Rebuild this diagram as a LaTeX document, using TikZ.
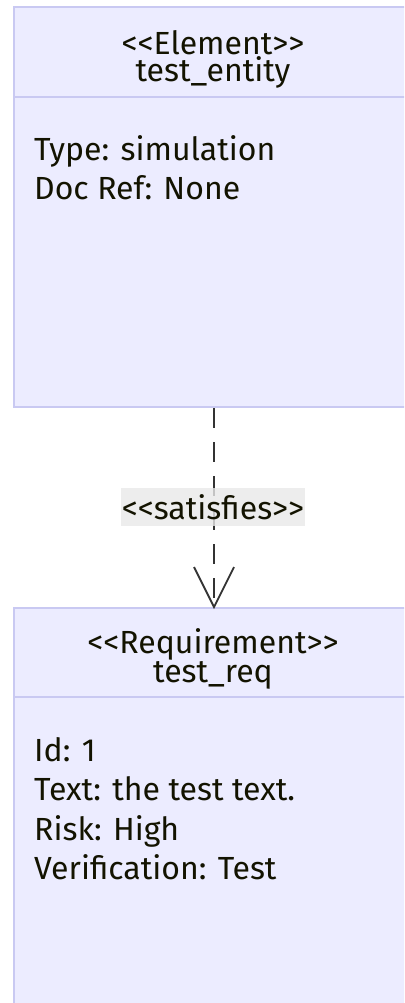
\documentclass[tikz,border=0pt]{standalone}
\usepackage{fontspec}
\setmainfont{Fira Sans}
\definecolor{boxfill}{HTML}{ECECFF}
\definecolor{boxline}{HTML}{C9C9F2}
\definecolor{ink}{HTML}{333333}
\definecolor{txtcol}{HTML}{131300}
\definecolor{labelbg}{HTML}{E8E8E8}
% guillemet-like brackets without the TeX ligature mapping
\newcommand\stopen{<\kern0pt<}
\newcommand\stclose{>\kern0pt>}
\tikzset{
  reqbox/.style={draw=boxline, fill=boxfill, line width=2pt, minimum width=400pt, anchor=north west, inner sep=0pt},
  divider/.style={draw=boxline, line width=2pt},
  txt/.style={font=\fontsize{32}{39}\selectfont, text=txtcol, inner sep=0pt},
  title/.style={font=\fontsize{32}{27}\selectfont, text=txtcol, inner sep=0pt, align=center, anchor=base},
  satisfy/.style={draw=ink, line width=1.8pt, dash pattern=on 20pt off 14pt},
  openv/.style={draw=ink, line width=1.8pt},
  edgelabel/.style={txt, fill=labelbg, fill opacity=0.8, text opacity=1, minimum width=184pt, minimum height=38pt},
}
\begin{document}
\begin{tikzpicture}[x=1pt,y=-1pt]
\useasboundingbox (0,0) rectangle (404,1003);
\clip (0,0) rectangle (404,1003);

% element box (two-line title, base = baseline of the last line)
\node[reqbox, minimum height=400pt] (elem) at (13,6) {};
\draw[divider] ([yshift=-91pt]elem.north west) -- ([yshift=-91pt]elem.north east);
\node[title] (elemtitle) at (213,82) {\stopen Element\stclose\\test\_entity};
\node[txt, anchor=base west] (elemtype) at (34,161) {Type: simulation};
\node[txt, anchor=base west] (elemdoc) at (34,200) {Doc Ref: None};

% requirement box
\node[reqbox, minimum height=500pt] (req) at (13,607) {};
\draw[divider] ([yshift=-90pt]req.north west) -- ([yshift=-90pt]req.north east);
\node[title] (reqtitle) at (213,682) {\stopen Requirement\stclose\\test\_req};
\node[txt, anchor=base west] (reqid) at (34,761) {Id: 1};
\node[txt, anchor=base west] (reqtext) at (34,800.5) {Text: the test text.};
\node[txt, anchor=base west] (reqrisk) at (34,840) {Risk: High};
\node[txt, anchor=base west] (reqver) at (34,879.5) {Verification: Test};

% satisfies relation
\draw[satisfy] (elem.south) -- (req.north);
\draw[openv] ([shift={(-20pt,40pt)}]req.north) -- (req.north) -- ([shift={(20pt,40pt)}]req.north);
\node[edgelabel] (rel) at (213,507) {\stopen satisfies\stclose};
\end{tikzpicture}
\end{document}
